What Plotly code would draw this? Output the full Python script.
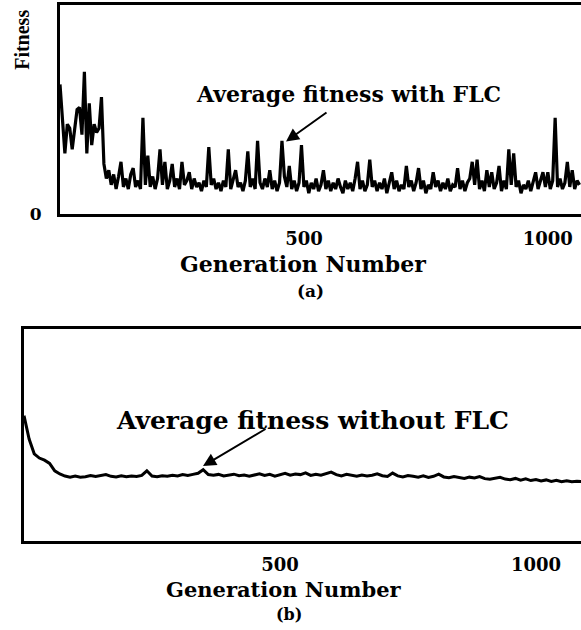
import plotly.graph_objects as go

# ---- data ----
# Panel (a): average fitness with FLC, sampled every 5 generations (arbitrary units, frame top = 100)
gen_a = list(range(0, 1070, 5))
fit_a = [
    62, 45, 29, 43, 41, 31, 40, 50, 51, 38,
    68, 29, 53, 33, 43, 39, 41, 56, 24, 17,
    21, 14, 19, 12, 18, 25, 13, 17, 12, 19,
    22, 13, 16, 12, 46, 14, 28, 13, 18, 12,
    17, 31, 14, 25, 12, 16, 24, 13, 17, 12,
    25, 14, 16, 20, 12, 17, 13, 15, 11, 16,
    13, 32, 14, 17, 12, 15, 11, 16, 13, 31,
    12, 16, 21, 13, 15, 11, 16, 30, 13, 17,
    12, 35, 15, 12, 17, 13, 21, 12, 16, 11,
    15, 35, 18, 13, 23, 12, 16, 11, 15, 33,
    13, 16, 10, 15, 12, 17, 11, 14, 21, 12,
    16, 11, 15, 12, 17, 13, 10, 16, 12, 15,
    11, 17, 25, 12, 16, 11, 14, 26, 13, 16,
    11, 15, 12, 17, 10, 15, 20, 12, 16, 11,
    14, 12, 23, 13, 16, 11, 15, 22, 12, 16,
    10, 14, 12, 20, 13, 16, 11, 15, 12, 17,
    11, 14, 13, 22, 12, 16, 11, 15, 17, 25,
    14, 26, 12, 16, 11, 21, 13, 20, 12, 15,
    23, 11, 16, 12, 31, 14, 29, 13, 16, 10,
    14, 12, 16, 11, 15, 20, 12, 16, 20, 13,
    20, 12, 16, 46, 13, 17, 12, 15, 25, 13,
    21, 12, 16, 14,
]

# Panel (b): average fitness without FLC, sampled every 10 generations
gen_b = list(range(0, 1100, 10))
fit_b = [
    59, 48, 41, 39, 38, 36.5, 33, 31.5, 30.5, 30,
    30.5, 30, 30.2, 30.8, 30.3, 30.6, 31.2, 30.4, 30.1, 30.6,
    30.2, 30.5, 30.3, 30.8, 33, 30.5, 30.2, 30.7, 30.4, 30.9,
    30.6, 31.2, 30.8, 31.3, 31.8, 33.5, 31.2, 30.9, 31.3, 30.6,
    30.9, 31.4, 30.7, 31.0, 30.4, 31.1, 31.6, 30.8, 31.3, 30.5,
    31.0, 31.8, 30.9, 31.5, 31.2, 32.0, 30.8, 31.4, 30.9, 31.7,
    32.4, 31.2, 30.6, 31.3, 30.8, 30.4, 31.0, 30.6, 30.9, 31.6,
    30.7, 30.3, 31.9, 30.6, 30.1, 30.8, 30.4, 30.0, 30.6, 29.9,
    30.4, 31.4, 30.1, 29.7, 30.3, 29.8, 29.4, 30.0, 29.6, 30.3,
    29.3, 29.0, 29.5, 29.9, 29.1, 28.8, 29.4, 28.6, 29.2, 28.4,
    28.9, 28.2, 28.7, 28.0, 28.5, 27.9, 28.3, 27.8, 28.1, 27.9,
]

x_ticks = [500, 1000]
x_tick_text = ["500", "1000"]
x_title = "Generation Number"
y_title = "Fitness"
label_a = "(a)"
label_b = "(b)"
note_a = "Average fitness with FLC"
note_b = "Average fitness without FLC"

W, H = 581, 630
SERIF = "DejaVu Serif"
K = 1.012  # small vertical correction


def px(xp):
    return xp / W


def py(yp):
    return 1 - (yp * K) / H


fig = go.Figure()
fig.add_trace(go.Scatter(x=gen_a, y=fit_a, mode="lines",
                         line=dict(color="black", width=3.2),
                         xaxis="x", yaxis="y", showlegend=False))
fig.add_trace(go.Scatter(x=gen_b, y=fit_b, mode="lines",
                         line=dict(color="black", width=3),
                         xaxis="x2", yaxis="y2", showlegend=False))

tickfont = dict(family=SERIF, size=18, color="black", weight="bold")
common_x = dict(showline=True, linewidth=3, linecolor="black", mirror=True,
                showgrid=False, zeroline=False, ticks="",
                tickvals=x_ticks, ticktext=x_tick_text, tickfont=tickfont,
                ticklabelstandoff=6)
common_y = dict(showline=True, linewidth=3, linecolor="black", mirror=False,
                showgrid=False, zeroline=False, ticks="", range=[0, 100])

fig.update_layout(
    width=W, height=H,
    margin=dict(l=0, r=0, t=0, b=0),
    paper_bgcolor="white", plot_bgcolor="white",
    showlegend=False,
    xaxis=dict(domain=[px(60), 1], range=[0, 1068], anchor="y", **common_x),
    yaxis=dict(domain=[py(215), py(5)], anchor="x",
               tickvals=[0], ticktext=["0"],
               tickfont=dict(family=SERIF, size=17, color="black", weight="bold"),
               ticklabelstandoff=12, **common_y),
    xaxis2=dict(domain=[px(24), 1], range=[0, 1088], anchor="y2", **common_x),
    yaxis2=dict(domain=[py(543), py(330)], anchor="x2",
                showticklabels=False, **common_y),
)

ann = [
    dict(text=y_title, x=px(22), y=py(40), textangle=-90,
         font=dict(family="Liberation Serif", size=20, color="black", weight="bold")),
    dict(text=x_title, x=px(303), y=py(265), font=dict(family=SERIF, size=22, color="black", weight="bold")),
    dict(text=label_a, x=px(310), y=py(292), font=dict(family=SERIF, size=17, color="black", weight="bold")),
    dict(text=x_title, x=px(284), y=py(592), font=dict(family=SERIF, size=21, color="black", weight="bold")),
    dict(text=label_b, x=px(289), y=py(617), font=dict(family=SERIF, size=16, color="black", weight="bold")),
    dict(text=note_a, x=px(348), y=py(94), font=dict(family=SERIF, size=22, color="black", weight="bold")),
    dict(text=note_b, x=px(312), y=py(422), font=dict(family=SERIF, size=25, color="black", weight="bold")),
]
for a in ann:
    a.update(xref="paper", yref="paper", showarrow=False, xanchor="center", yanchor="middle")
    fig.add_annotation(**a)

# arrows
fig.add_annotation(x=px(286), y=py(142), xref="paper", yref="paper", text="",
                   showarrow=True, ax=42, ay=-30, arrowhead=2, arrowsize=1.3,
                   arrowwidth=2, arrowcolor="black")
fig.add_annotation(x=px(203), y=py(468), xref="paper", yref="paper", text="",
                   showarrow=True, ax=64, ay=-38, arrowhead=2, arrowsize=1.3,
                   arrowwidth=2, arrowcolor="black")

fig.write_html("out.html")
